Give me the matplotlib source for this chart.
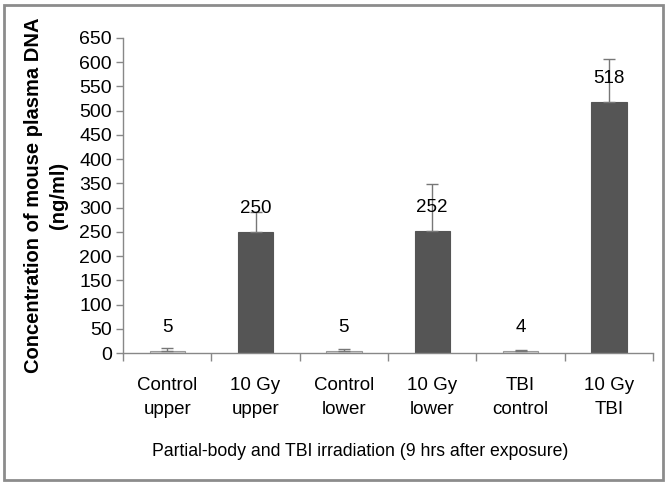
import matplotlib
matplotlib.use("Agg")
import matplotlib.pyplot as plt
from matplotlib.patches import Rectangle
import numpy as np

categories = ["Control\nupper", "10 Gy\nupper", "Control\nlower", "10 Gy\nlower", "TBI\ncontrol", "10 Gy\nTBI"]
values = [5, 250, 5, 252, 4, 518]
errors = [5, 40, 3, 97, 2, 89]
labels = ["5", "250", "5", "252", "4", "518"]
is_control = [True, False, True, False, True, False]

plt.rcParams['font.family'] = ['Liberation Sans', 'DejaVu Sans']

W, H = 668, 484
fig = plt.figure(figsize=(W / 100, H / 100), dpi=100)
ax = fig.add_axes([123 / W, 1 - 353 / H, (653 - 123) / W, (353 - 38) / H])

x = np.arange(len(categories))
colors = ['#d4d4d4' if c else '#555555' for c in is_control]
edges = ['#9a9a9a' if c else '#555555' for c in is_control]
ax.bar(x, values, width=0.4, color=colors, edgecolor=edges, linewidth=0.8, zorder=2)
ax.errorbar(x, values, yerr=[np.zeros(len(values)), errors], fmt='none',
            ecolor='#777777', elinewidth=1, capsize=4, capthick=1, zorder=3)
for xi, v, lab in zip(x, values, labels):
    ax.text(xi, v + 48, lab, ha='center', va='center', fontsize=13.5, color='black', zorder=4)

ax.set_xlim(-0.5, len(categories) - 0.5)
ax.set_ylim(0, 650)
ax.set_yticks(np.arange(0, 651, 50))
ax.tick_params(axis='y', labelsize=14, length=5, color='#888888', width=1, pad=3)
ax.set_xticks(x)
ax.set_xticklabels(categories, fontsize=13.5, linespacing=1.55)
ax.tick_params(axis='x', which='major', length=0, pad=17)
ax.set_xticks(np.arange(-0.5, len(categories), 1), minor=True)
ax.tick_params(axis='x', which='minor', length=6, color='#888888', width=1, direction='out')

for s in ['top', 'right']:
    ax.spines[s].set_visible(False)
for s in ['left', 'bottom']:
    ax.spines[s].set_color('#888888')
    ax.spines[s].set_linewidth(1)

fig.text(46 / W, 1 - 195 / H, "Concentration of mouse plasma DNA\n(ng/ml)", rotation=90,
         ha='center', va='center', fontsize=14.5, fontweight='bold', linespacing=1.35,
         multialignment='center')
fig.text(360 / W, 1 - 451 / H, "Partial-body and TBI irradiation (9 hrs after exposure)",
         ha='center', va='center', fontsize=12.7)

fig.patches.append(Rectangle((4 / W, 1 - 480 / H), (663 - 4) / W, (480 - 5) / H,
                             transform=fig.transFigure, fill=False,
                             edgecolor='#8c8c8c', linewidth=2))

fig.savefig("out.png", dpi=100)
